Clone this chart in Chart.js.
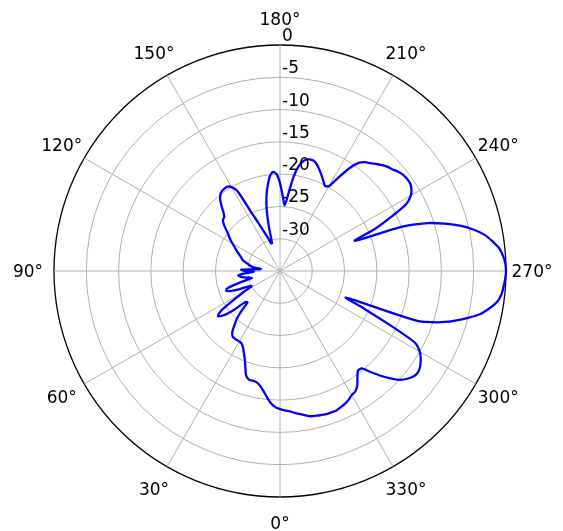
<!DOCTYPE html>
<html>
<head>
<meta charset="utf-8">
<script src="https://cdn.jsdelivr.net/npm/chart.js@4.4.1/dist/chart.umd.min.js"></script>
<style>
  html, body { margin: 0; padding: 0; background: #ffffff; }
  #wrap { width: 563px; height: 531px; }
</style>
</head>
<body>
<div id="wrap"><canvas id="polar" width="563" height="531"></canvas></div>
<script>
// Azimuth samples (degrees), every 2°
const angleStepDeg = 2;
const anglesDeg = Array.from({ length: 180 }, (_, i) => i * angleStepDeg);

// Gain pattern in dB, one array per quadrant
const gain0to88 = [
  -13.6, -13.9, -14.5, -15.4, -16.3, -17.0, -17.4, -17.5, -17.5, -18.0,
  -19.3, -20.4, -21.2, -21.9, -22.3, -22.4, -22.4, -22.4, -22.5, -23.0,
  -24.0, -25.0, -26.5, -28.0, -27.8, -25.5, -23.8, -23.1, -24.0, -26.5,
  -28.5, -30.0, -29.5, -28.0, -26.8, -26.1, -26.5, -28.5, -30.5, -30.0,
  -29.3, -28.8, -28.5, -29.5, -31.0
];
const gain90to178 = [
  -29.5, -29.0, -31.5, -32.0, -30.8, -30.3, -30.0, -29.5, -29.0, -28.8,
  -28.5, -28.2, -27.8, -27.4, -27.0, -26.5, -26.0, -25.5, -25.0, -24.3,
  -23.6, -23.1, -23.0, -22.4, -21.5, -20.6, -20.0, -19.7, -19.6, -19.6,
  -20.0, -21.0, -25.0, -27.0, -28.5, -29.5, -30.5, -30.5, -27.8, -25.0,
  -23.0, -21.5, -20.2, -19.6, -20.0
];
const gain180to268 = [
  -21.4, -23.3, -24.8, -23.2, -20.5, -18.6, -17.6, -17.2, -17.1, -17.3,
  -17.8, -18.4, -19.0, -19.6, -20.1, -19.8, -18.0, -15.8, -14.3, -13.6,
  -13.2, -12.7, -12.2, -11.8, -11.5, -11.1, -10.8, -10.7, -10.7, -11.0,
  -11.6, -12.8, -15.8, -18.8, -22.5, -15.0, -11.0, -8.4, -6.1, -4.3,
  -2.8, -1.8, -0.9, -0.4, -0.1
];
const gain270to358 = [
  0.0, -0.1, -0.3, -0.5, -1.0, -2.0, -3.2, -5.0, -7.0, -9.3,
  -12.5, -24.0, -21.0, -16.5, -11.3, -10.0, -9.3, -8.8, -8.5, -8.6,
  -9.1, -9.8, -11.0, -12.4, -13.9, -15.3, -15.4, -14.6, -13.6, -13.0,
  -12.8, -12.4, -12.1, -11.9, -11.7, -11.7, -11.7, -11.8, -11.9, -12.0,
  -12.3, -12.6, -12.9, -13.2, -13.4
];
const gainDb = [...gain0to88, ...gain90to178, ...gain180to268, ...gain270to358];

// Radial axis range and labelled rings (dB)
const rMin = -35;
const rMax = 0;
const rStep = 5;
const ringValues = [0, -5, -10, -15, -20, -25, -30];
const ringLabels = ['0', '-5', '-10', '-15', '-20', '-25', '-30'];

// Angular grid every 30°
const angleGridStepDeg = 30;
const angleTickValues = [0, 30, 60, 90, 120, 150, 180, 210, 240, 270, 300, 330];

const FONT = '17px "DejaVu Sans", sans-serif';
const GRID_COLOR = '#b0b0b0';

// Text labels for rings and azimuths, positioned through the radial scale
const polarLabels = {
  id: 'polarLabels',
  afterDraw(chart) {
    const scale = chart.scales.r;
    const ctx = chart.ctx;
    ctx.save();
    ctx.font = FONT;
    ctx.fillStyle = '#000000';

    // ring labels along the upward (180°) direction, just right of it
    ctx.textAlign = 'left';
    ctx.textBaseline = 'alphabetic';
    ringValues.forEach((v, i) => {
      const d = scale.getDistanceFromCenterForValue(v);
      ctx.fillText(ringLabels[i], scale.xCenter + 2, scale.yCenter - d - 4);
    });

    // azimuth labels around the outside
    ctx.textAlign = 'center';
    const outer = scale.drawingArea + 26;
    angleTickValues.forEach(a => {
      const idx = anglesDeg.indexOf(a);
      const p = scale.getPointPosition(idx, outer);
      ctx.fillText(a + '°', p.x, p.y + 6.2);
    });
    ctx.restore();
  }
};

new Chart(document.getElementById('polar'), {
  type: 'radar',
  data: {
    labels: anglesDeg,
    datasets: [{
      data: gainDb,
      borderColor: '#0000ff',
      borderWidth: 2.3,
      borderJoinStyle: 'round',
      borderCapStyle: 'round',
      fill: false,
      pointRadius: 0,
      pointHoverRadius: 0,
      tension: 0.25
    }]
  },
  options: {
    responsive: false,
    animation: false,
    events: [],
    layout: { padding: { left: 54, right: 57, top: 45, bottom: 34 } },
    plugins: {
      legend: { display: false },
      tooltip: { enabled: false }
    },
    scales: {
      r: {
        min: rMin,
        max: rMax,
        startAngle: 180,
        ticks: { display: false, stepSize: rStep },
        pointLabels: { display: false },
        grid: {
          circular: true,
          color: c => (c.tick && c.tick.value === rMax) ? '#000000'
                    : (c.tick && c.tick.value === rMin) ? 'rgba(0,0,0,0)' : GRID_COLOR,
          lineWidth: c => (c.tick && c.tick.value === rMax) ? 1.3 : 1
        },
        angleLines: {
          color: GRID_COLOR,
          lineWidth: c => (anglesDeg[c.index] % angleGridStepDeg === 0) ? 1 : 0
        }
      }
    }
  },
  plugins: [polarLabels]
});
</script>
</body>
</html>
